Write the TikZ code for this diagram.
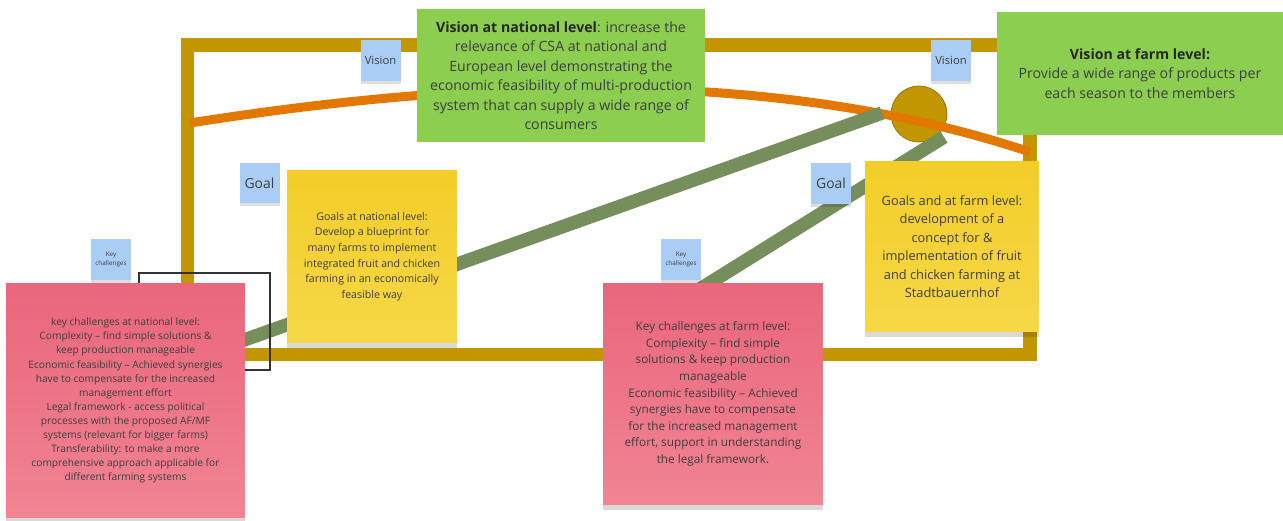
\documentclass[tikz,border=0pt]{standalone}
\usepackage{fontspec}
\setmainfont{Open Sans}
\usetikzlibrary{shadows}
\definecolor{framegold}{RGB}{193,150,0}
\definecolor{trendorange}{RGB}{226,120,0}
\definecolor{linkgreen}{RGB}{118,142,92}
\definecolor{visiongreen}{RGB}{140,206,80}
\definecolor{goaltop}{RGB}{243,205,40}
\definecolor{goalbot}{RGB}{246,216,72}
\definecolor{keytop}{RGB}{234,102,124}
\definecolor{keybot}{RGB}{241,132,148}
\definecolor{tagblue}{RGB}{170,205,245}
\definecolor{notetext}{RGB}{62,62,62}
\tikzset{
    note/.style={
        align=center,
        inner sep=0pt,
        text=notetext,
    },
    lifted/.style={
        general shadow={
            fill=black,
            opacity=0.15,
            shadow xshift=0pt,
            shadow yshift=-3pt,
        },
    },
    visionnote/.style={
        note,
        fill=visiongreen,
        font=\fontsize{8.05}{11.1}\selectfont,
    },
    goalnote/.style={
        note,
        lifted,
        top color=goaltop,
        bottom color=goalbot,
    },
    keynote/.style={
        note,
        lifted,
        top color=keytop,
        bottom color=keybot,
    },
    tag/.style={
        fill=tagblue,
        general shadow={fill=black, opacity=0.13, shadow yshift=-1.5pt},
        minimum width=0.8cm,
        minimum height=0.82cm,
        inner sep=0pt,
        align=center,
        text=notetext,
    },
    frame/.style={
        draw=framegold,
        line width=0.27cm,
    },
    trend/.style={
        draw=trendorange,
        line width=0.18cm,
    },
    link/.style={
        draw=linkgreen,
        line width=0.27cm,
    },
    hub/.style={
        circle,
        fill=framegold,
        draw=framegold!75!black,
        thin,
        minimum size=1.12cm,
        inner sep=0pt,
    },
}
\begin{document}
\begin{tikzpicture}[x=0.02cm,y=-0.02cm]
    \useasboundingbox (0,0) rectangle (1283,520);
    \draw[frame] (187.5,45) rectangle (1030,354.5);
    \node[hub] (hub) at (919,114) {};
    \draw[trend] (190,123) .. controls (450,82) and (760,62) .. (1030,152);
    \coordinate (hubwest) at (882,113);
    \coordinate (hubsouth) at (944,137);
    \coordinate (keynatlink) at (230,345);
    \coordinate (keyfarmlink) at (700,289);
    \draw[link] (keynatlink) -- (hubwest);
    \draw[link] (keyfarmlink) -- (hubsouth);
    \draw[gray!40!black, line width=0.6pt] (139,273) rectangle (270,370);
    \node[visionnote, minimum width=5.76cm, minimum height=2.66cm] (visnat) at (561,75.5)
        {\textcolor{black!85}{\bfseries Vision at national level}: increase the\\
         relevance of CSA at national and\\
         European level demonstrating the\\
         economic feasibility of multi-production\\
         system that can supply a wide range of\\
         consumers};
    \node[visionnote, minimum width=5.72cm, minimum height=2.46cm] (visfarm) at (1140,73.5)
        {\textcolor{black!85}{\bfseries Vision at farm level:}\\
         Provide a wide range of products per\\
         each season to the members};
    \node[goalnote, minimum width=3.4cm, minimum height=3.46cm,
        font=\fontsize{6.05}{8.9}\selectfont] (goalnat) at (372,256.5)
        {Goals at national level:\\
         Develop a blueprint for\\
         many farms to implement\\
         integrated fruit and chicken\\
         farming in an economically\\
         feasible way};
    \node[goalnote, minimum width=3.48cm, minimum height=3.42cm,
        font=\fontsize{7.3}{10.5}\selectfont] (goalfarm) at (952,246.5)
        {Goals and at farm level:\\
         development of a\\
         concept for \&\\
         implementation of fruit\\
         and chicken farming at\\
         Stadtbauernhof};
    \node[keynote, minimum width=4.78cm, minimum height=4.7cm,
        font=\fontsize{5.8}{8}\selectfont] (keynat) at (125.5,400.5)
        {key challenges at national level:\\
         Complexity – find simple solutions \&\\
         keep production manageable\\
         Economic feasibility – Achieved synergies\\
         have to compensate for the increased\\
         management effort\\
         Legal framework - access political\\
         processes with the proposed AF/MF\\
         systems (relevant for bigger farms)\\
         Transferability: to make a more\\
         comprehensive approach applicable for\\
         different farming systems};
    \node[keynote, minimum width=4.4cm, minimum height=4.44cm,
        font=\fontsize{6.7}{9.45}\selectfont] (keyfarm) at (713,394)
        {Key challenges at farm level:\\
         Complexity – find simple\\
         solutions \& keep production\\
         manageable\\
         Economic feasibility – Achieved\\
         synergies have to compensate\\
         for the increased management\\
         effort, support in understanding\\
         the legal framework.};
    \node[tag, font=\fontsize{6.4}{7}\selectfont] (tagvisnat) at (380.5,60.5) {Vision};
    \node[tag, font=\fontsize{6.4}{7}\selectfont] (tagvisfarm) at (951,60.5) {Vision};
    \node[tag, font=\fontsize{7.9}{9}\selectfont] (taggoalnat) at (259.5,183) {Goal};
    \node[tag, font=\fontsize{7.9}{9}\selectfont] (taggoalfarm) at (831,183.5) {Goal};
    \node[tag, font=\fontsize{3.6}{4.8}\selectfont] (tagkeynat) at (111,259.5) {Key\\challenges};
    \node[tag, font=\fontsize{3.6}{4.8}\selectfont] (tagkeyfarm) at (681,259.5) {Key\\challenges};
\end{tikzpicture}
\end{document}
